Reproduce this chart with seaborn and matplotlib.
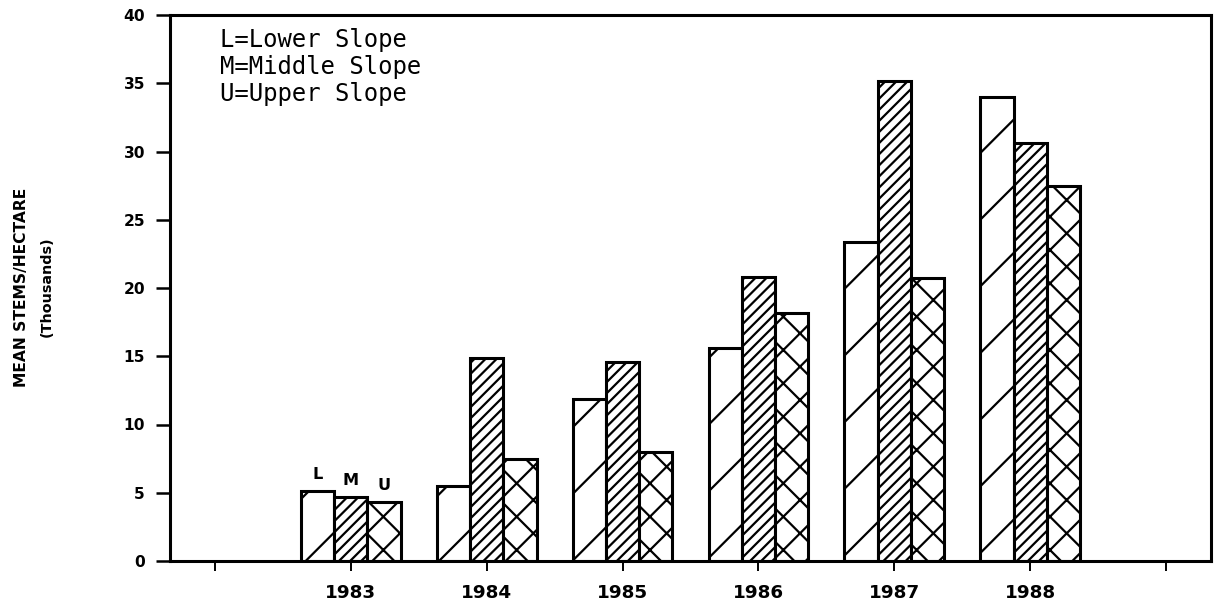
import numpy as np
import pandas as pd
import matplotlib
matplotlib.use("Agg")
import matplotlib.pyplot as plt
import seaborn as sns

# ---- data ----
years = ["1983", "1984", "1985", "1986", "1987", "1988"]
lower = [5.1, 5.5, 11.9, 15.6, 23.4, 34.0]
middle = [4.7, 14.9, 14.6, 20.8, 35.2, 30.6]
upper = [4.3, 7.5, 8.0, 18.2, 20.7, 27.5]
slopes = ["L", "M", "U"]
slot_order = [" "] + years + ["  "]
tick_labels = [""] + years + [""]
yticks = [0, 5, 10, 15, 20, 25, 30, 35, 40]
legend_lines = ["L=Lower Slope", "M=Middle Slope", "U=Upper Slope"]

df = pd.DataFrame({
    "year": years * 3,
    "slope": ["L"] * 6 + ["M"] * 6 + ["U"] * 6,
    "value": lower + middle + upper,
})

sns.set_style("white")
plt.rcParams["hatch.color"] = "black"
plt.rcParams["hatch.linewidth"] = 0.8
plt.rcParams["font.family"] = ["DejaVu Sans"]
plt.rcParams["text.color"] = "black"
plt.rcParams["xtick.color"] = "black"
plt.rcParams["ytick.color"] = "black"
plt.rcParams["axes.labelcolor"] = "black"

DPI = 200
fig = plt.figure(figsize=(1214 / DPI, 607 / DPI), dpi=DPI)
ax = fig.add_axes([170 / 1214, 1 - 561 / 607, (1211 - 170) / 1214, (561 - 15) / 607])

sns.barplot(data=df, x="year", y="value", hue="slope", order=slot_order,
            hue_order=slopes, palette=["white"] * 3, edgecolor="black",
            linewidth=1.1, width=0.735, saturation=1, ax=ax, legend=False,
            errorbar=None)

hatches = ["/", "//////", "xx"]
for cont, h in zip(ax.containers, hatches):
    for p in cont.patches:
        p.set_hatch(h)
        p.set_edgecolor("black")
        p.set_facecolor("white")

# letters above 1983 bars
for cont, lab in zip(ax.containers, slopes):
    for p in cont.patches:
        if not np.isnan(p.get_height()):
            cx = p.get_x() + p.get_width() / 2
            ax.annotate(lab, (cx, p.get_height()), xytext=(0, 3.2),
                        textcoords="offset points", ha="center", va="bottom",
                        fontsize=5.8, fontweight="bold", color="black")
            break

ax.set_xlim(-0.33, 7.33)
ax.set_ylim(0, 40)
ax.set_xticks(range(len(slot_order)))
ax.set_xticklabels(tick_labels, fontsize=6.6, fontweight="bold")
ax.set_yticks(yticks)
ax.set_yticklabels([str(v) for v in yticks], fontsize=5.6, fontweight="bold")
ax.tick_params(axis="y", direction="out", length=5, width=0.9, pad=4, left=True)
ax.tick_params(axis="x", direction="out", length=3.6, width=0.7, pad=4.5, bottom=True)
ax.set_xlabel("")
ax.set_ylabel("")
for s in ax.spines.values():
    s.set_visible(True)
    s.set_color("black")
    s.set_linewidth(1.1)

ax.text(0.048, 0.905, "\n".join(legend_lines), transform=ax.transAxes,
        ha="left", va="center", fontsize=8.6, family="DejaVu Sans Mono",
        linespacing=1.15, color="black")

fig.text(22 / 1214, 1 - 287 / 607, "MEAN STEMS/HECTARE", rotation=90,
         ha="center", va="center", fontsize=5.6, fontweight="bold", color="black")
fig.text(47 / 1214, 1 - 287 / 607, "(Thousands)", rotation=90,
         ha="center", va="center", fontsize=5.2, fontweight="bold", color="black")

fig.savefig("out.png", dpi=DPI, facecolor="white")
